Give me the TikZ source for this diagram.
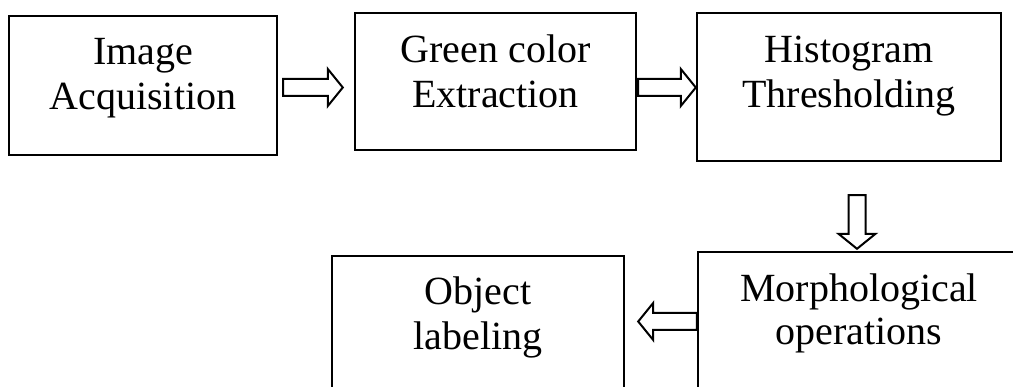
\documentclass[tikz,border=0pt]{standalone}
\usepackage{fontspec}
\setmainfont{Liberation Serif}
\usetikzlibrary{calc}

\tikzset{
  stage/.style={draw=black, line width=2.4pt, inner sep=0pt, fill=none},
  caption/.style={font=\fontsize{40}{45}\selectfont, anchor=base, inner sep=0pt, text=black},
  hollow/.style={draw=black, line width=2pt, fill=white, line join=miter},
}

% hollow block arrow from #1 (tail) to #2 (tip)
\newcommand{\blockarrow}[2]{%
  \draw[hollow]
    ($(#1)!8.5pt!90:(#2)$)
    -- ($(#2)!15pt!(#1)!8.5pt!-90:(#1)$)
    -- ($(#2)!15pt!(#1)!18.5pt!-90:(#1)$)
    -- (#2)
    -- ($(#2)!15pt!(#1)!18.5pt!90:(#1)$)
    -- ($(#2)!15pt!(#1)!8.5pt!90:(#1)$)
    -- ($(#1)!8.5pt!-90:(#2)$)
    -- cycle;%
}

\begin{document}
\begin{tikzpicture}[x=1pt, y=-1pt]
  \useasboundingbox (0,0) rectangle (1013,387);
  \clip (0,0) rectangle (1013,387);

  % processing stages
  \node[stage, minimum width=268pt, minimum height=139pt] (b1) at (143,85.5) {};
  \node[stage, minimum width=281pt, minimum height=137pt] (b2) at (495.5,81.5) {};
  \node[stage, minimum width=304pt, minimum height=148pt] (b3) at (849,87) {};
  \node[stage, minimum width=322pt, minimum height=136pt] (b4) at (859,320) {};
  \node[stage, minimum width=292pt, minimum height=134pt] (b5) at (478,323) {};

  % stage labels
  \node[caption] (t1a) at (143,65) {Image};
  \node[caption] (t1b) at (143,110) {Acquisition};
  \node[caption] (t2a) at (495.5,63) {Green color};
  \node[caption] (t2b) at (495.5,108) {Extraction};
  \node[caption] (t3a) at (849,63) {Histogram};
  \node[caption] (t3b) at (849,108) {Thresholding};
  \node[caption] (t4a) at (859,302) {Morphological};
  \node[caption] (t4b) at (859,345) {operations};
  \node[caption] (t5a) at (478,305) {Object};
  \node[caption] (t5b) at (478,350) {labeling};

  % arrow end points between the stages
  \coordinate (a1s) at ($(b1.east)+(5,2)$);
  \coordinate (a1t) at ($(b2.west)+(-11,6)$);
  \coordinate (a2s) at ($(b2.east)+(1,6)$);
  \coordinate (a2t) at ($(b3.west)+(0,0.5)$);
  \coordinate (a3s) at ($(b3.south)+(8,33)$);
  \coordinate (a3t) at ($(b4.north)+(-2,-2)$);
  \coordinate (a4s) at ($(b4.west)+(0,1.5)$);
  \coordinate (a4t) at ($(b5.east)+(13,-1.5)$);

  \blockarrow{a1s}{a1t}
  \blockarrow{a2s}{a2t}
  \blockarrow{a3s}{a3t}
  \blockarrow{a4s}{a4t}
\end{tikzpicture}
\end{document}
